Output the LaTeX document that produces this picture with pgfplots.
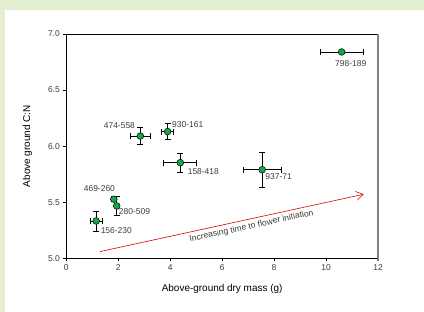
\documentclass[border=0pt]{standalone}
\usepackage{pgfplots}
\pgfplotsset{compat=1.18}
\usepackage{fontspec}
\setmainfont{Liberation Sans}
\usetikzlibrary{arrows.meta}
\definecolor{bggreen}{HTML}{E4EFD2}
\definecolor{ptgreen}{HTML}{12A84A}
\definecolor{txtgray}{HTML}{3C3C3C}
\begin{document}
\begin{tikzpicture}[x=1bp,y=1bp]
\useasboundingbox (0,0) rectangle (424,312);
\fill[bggreen] (0,0) rectangle (424,312);
\fill[white] (5,0) rectangle (424,302);
\begin{axis}[
  at={(66.3bp,53.7bp)}, anchor=south west,
  scale only axis, width=311.7bp, height=224.3bp,
  xmin=0, xmax=12, ymin=5, ymax=7,
  xtick={0,2,...,12}, ytick={5,5.5,...,7},
  yticklabel style={/pgf/number format/.cd, fixed, fixed zerofill, precision=1},
  /pgf/number format/assume math mode=true,
  tick align=outside, tick pos=left, major tick length=3bp,
  tick style={black, line width=0.6pt},
  axis line style={black, line width=0.6pt},
  ticklabel style={font=\fontsize{8.5}{10}\selectfont, text=txtgray},
  xlabel={Above-ground dry mass (g)},
  ylabel={Above ground C:N},
  label style={font=\fontsize{10.5}{12}\selectfont, text=txtgray},
  every axis x label/.style={at={(axis description cs:0.5,-0.137)}, anchor=center},
  every axis y label/.style={at={(axis description cs:-0.124,0.5)}, rotate=90, anchor=center},
  clip=false,
]
\addplot[only marks, mark=*, mark size=3.4bp,
  mark options={fill=ptgreen, draw=black, line width=0.5pt},
  error bars/.cd, x dir=both, x explicit, y dir=both, y explicit,
  error bar style={black, line width=0.7pt},
  error mark options={rotate=90, mark size=3bp, black, line width=0.7pt}]
  table[x=x, y=y, x error=ex, y error=ey] {
x y ex ey
10.60 6.84 0.82 0.0
2.85 6.09 0.40 0.075
3.90 6.13 0.24 0.07
4.39 5.853 0.635 0.086
7.54 5.79 0.73 0.153
1.83 5.527 0.10 0.02
1.94 5.467 0.06 0.085
1.15 5.333 0.24 0.09
};
\draw[gray, line width=1.6bp] (axis cs:12,7) -- (axis cs:12,4.975);
\draw[red!85!black, line width=0.6pt, -{Straight Barb[length=7bp,width=9bp]}] (axis cs:1.3,5.06) -- (axis cs:11.45,5.571);
\node[rotate=12.3, font=\fontsize{8.6}{10}\selectfont, text=txtgray] at (axis cs:7.13,5.285) {Increasing time to flower initiation};
\begin{scope}[every node/.style={font=\fontsize{8.5}{10}\selectfont, text=txtgray, inner sep=0pt}]
\node[anchor=center] at (axis cs:10.95,6.74) {798-189};
\node[anchor=east] at (axis cs:2.65,6.185) {474-558};
\node[anchor=west] at (axis cs:4.07,6.195) {930-161};
\node[anchor=west] at (axis cs:4.67,5.77) {158-418};
\node[anchor=west] at (axis cs:7.66,5.725) {937-71};
\node[anchor=east] at (axis cs:1.88,5.625) {469-260};
\node[anchor=west] at (axis cs:2.02,5.415) {280-509};
\node[anchor=west] at (axis cs:1.32,5.245) {156-230};
\end{scope}
\end{axis}
\end{tikzpicture}
\end{document}
